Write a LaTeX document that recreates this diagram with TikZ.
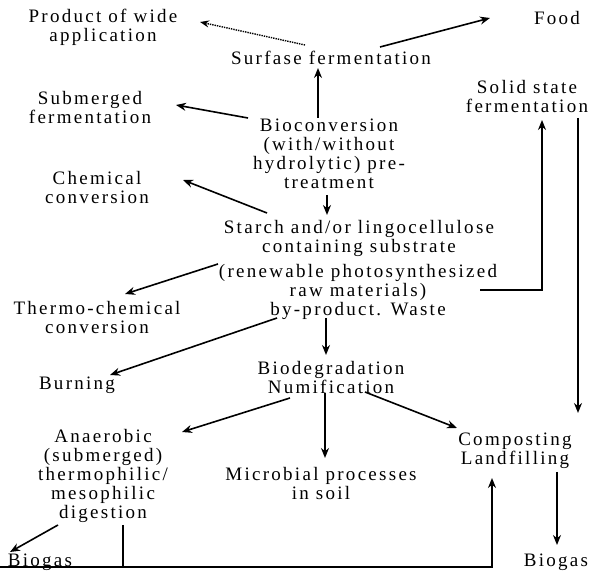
\documentclass[tikz,border=0pt]{standalone}
\usepackage{fontspec}
\setmainfont[LetterSpace=12]{Liberation Serif}
\usetikzlibrary{arrows.meta}

\begin{document}
\begin{tikzpicture}[x=1pt, y=-1pt, >=Stealth,
    lbl/.style={align=center, inner sep=0pt, font=\fontsize{19}{19}\selectfont},
    arr/.style={->, line width=1.6pt, >={Stealth[length=10pt,width=8pt]}}]
    \useasboundingbox (0,0) rectangle (590,572);
    % top row
    \node[lbl] (prod) at (103,27) {Product of wide\\application};
    \node[lbl] (food) at (557,18) {Food};
    \node[lbl] (surf) at (331,58) {Surfase fermentation};
    \node[lbl] (solid) at (527,97) {Solid state\\fermentation};
    % left column
    \node[lbl] (subm) at (90,108) {Submerged\\fermentation};
    \node[lbl] (chem) at (97,188) {Chemical\\conversion};
    \node[lbl] (thermo) at (97,318) {Thermo-chemical\\conversion};
    \node[lbl] (burn) at (77,385) {Burning};
    % middle column
    \node[lbl] (bio) at (329,154) {Bioconversion\\(with/without\\hydrolytic) pre-\\treatment};
    \node[lbl] (starch) at (359,238) {Starch and/or lingocellulose\\containing substrate};
    \node[lbl] (renew) at (358,292) {(renewable photosynthesized\\raw materials)\\by-product. Waste};
    \node[lbl] (biodeg) at (331,378) {Biodegradation\\Numification};
    % bottom row
    \node[lbl] (anaer) at (103,476) {Anaerobic\\(submerged)\\thermophilic/\\mesophilic\\digestion};
    \node[lbl] (micro) at (321,484) {Microbial processes\\in soil};
    \node[lbl] (comp) at (515,451) {Composting\\Landfilling};
    \node[lbl] (gasL) at (40,562) {Biogas};
    \node[lbl] (gasR) at (556,562) {Biogas};
    \coordinate (base) at (0,567);
    \coordinate (drop) at ([shift={(20,49)}]anaer.center);
    % from surface fermentation
    \draw[->, densely dotted, line width=1.4pt, >={Stealth[length=9pt,width=7pt]}]
      ([shift={(-26,-13)}]surf.center) -- ([shift={(97,-5)}]prod.center);
    \draw[arr] ([shift={(49,-11)}]surf.center) -- ([shift={(-67,0)}]food.center);
    % from bioconversion
    \draw[arr] ([shift={(-11,-36)}]bio.center) -- ([shift={(-13,10)}]surf.center);
    \draw[arr] ([shift={(-81,-36)}]bio.center) -- ([shift={(86,-3)}]subm.center);
    \draw[arr] ([shift={(-2,41)}]bio.center) -- ([shift={(-32,-23)}]starch.center);
    \draw[arr] ([shift={(-92,-25)}]starch.center) -- ([shift={(86,-8)}]chem.center);
    % from raw materials
    \draw[arr] ([shift={(-140,-28)}]renew.center) -- ([shift={(28,-24)}]thermo.center);
    \draw[arr] ([shift={(-81,26)}]renew.center) -- ([shift={(33,-10)}]burn.center);
    \draw[arr] ([shift={(-32,26)}]renew.center) -- ([shift={(-5,-23)}]biodeg.center);
    \draw[arr] ([shift={(122,-2)}]renew.center) -| ([shift={(15,23)}]solid.center);
    \draw[arr] ([shift={(51,21)}]solid.center) -- ([shift={(63,-38)}]comp.center);
    % from biodegradation
    \draw[arr] ([shift={(-41,20)}]biodeg.center) -- ([shift={(79,-44)}]anaer.center);
    \draw[arr] ([shift={(-6,15)}]biodeg.center) -- ([shift={(4,-26)}]micro.center);
    \draw[arr] ([shift={(34,14)}]biodeg.center) -- ([shift={(-58,-23)}]comp.center);
    % biogas
    \draw[arr] ([shift={(42,21)}]comp.center) -- ([shift={(1,-17)}]gasR.center);
    \draw[arr] ([shift={(-45,49)}]anaer.center) -- ([shift={(-30,-10)}]gasL.center);
    \draw[line width=1.6pt] (drop) -- (drop |- base);
    \draw[arr] (base) -| ([shift={(-23,27)}]comp.center);
\end{tikzpicture}
\end{document}
